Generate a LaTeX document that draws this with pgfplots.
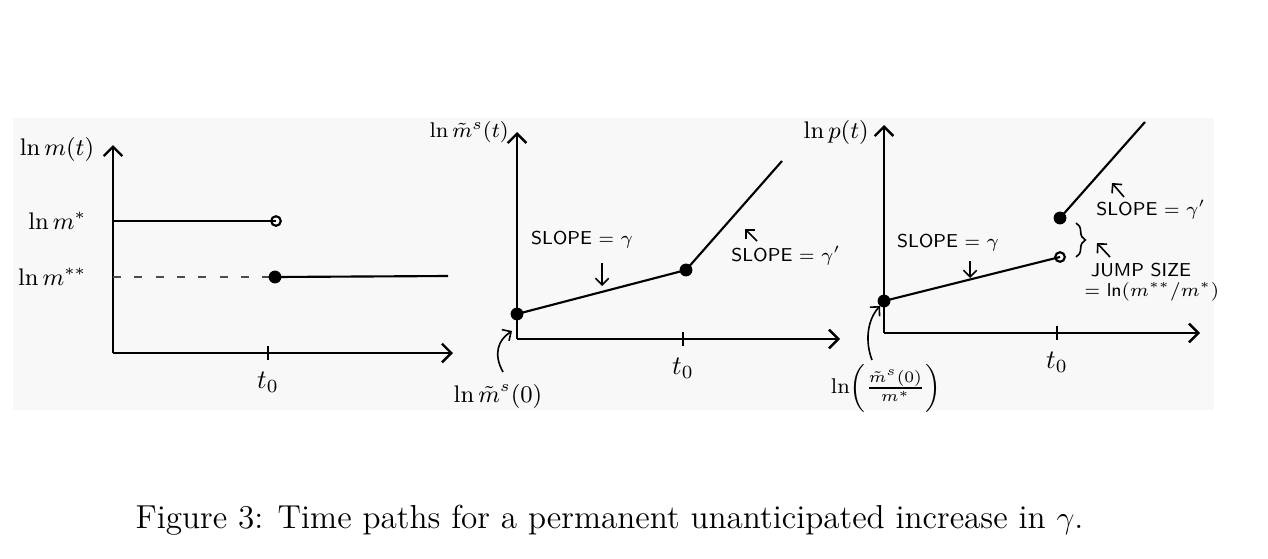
\documentclass[border=0pt]{standalone}
\usepackage{pgfplots}
\pgfplotsset{compat=1.18}
\usetikzlibrary{arrows.meta,decorations.pathreplacing}
\definecolor{scanbg}{HTML}{F8F8F8}
\pgfplotsset{
  panel/.style={
    scale only axis, anchor=south west, clip=false,
    axis lines=left, xmin=0, ymin=0,
    axis line style={line width=1.1pt, -{Straight Barb[length=3.5pt,width=7pt,line width=0.9pt]}},
    xtick style={black, line width=0.8pt}, tick align=center, major tick length=5pt,
    ytick style={draw=none},
    xticklabel style={font=\fontsize{10}{11}\selectfont, yshift=-1pt},
    yticklabel style={font=\fontsize{9}{10}\selectfont},
  },
  path/.style={black, line width=0.8pt, no markers},
}
\newcommand{\hw}{\fontsize{7}{8}\sffamily}
\begin{document}
\begin{tikzpicture}
\path[use as bounding box] (0,0) rectangle (475.5pt,209.25pt);
\begin{scope}[shift={(0pt,209.25pt)}, x=0.375pt, y=-0.375pt]
  \fill[scanbg] (13,118) rectangle (1214,410);
\end{scope}

% Panel 1: ln m(t)
\begin{axis}[panel, at={(42.375pt,76.875pt)}, width=127.5pt, height=78pt,
  xmax=3.40, ymax=2.08,
  xtick={1.55}, xticklabels={$t_0$},
  ytick={1.32,0.76}, yticklabels={$\ln m^{*}$, $\ln m^{**}$},
  yticklabel style={xshift=-4pt}]
  \addplot[path] coordinates {(0,1.32) (1.63,1.32)};
  \addplot[only marks, mark=o, mark size=1.8pt, mark options={line width=0.8pt, fill=white}] coordinates {(1.63,1.32)};
  \addplot[black!70, line width=0.6pt, dash pattern=on 3pt off 5pt, no markers] coordinates {(0,0.76) (1.62,0.76)};
  \addplot[path] coordinates {(1.62,0.76) (3.35,0.77)};
  \addplot[only marks, mark=*, mark size=2.2pt] coordinates {(1.62,0.76)};
  \node[font=\fontsize{9}{10}\selectfont] at (axis cs:-0.56,2.04) {$\ln m(t)$};
\end{axis}

% Panel 2: ln m~^s(t)
\begin{axis}[panel, at={(193.875pt,82.125pt)}, width=121.125pt, height=77.625pt,
  xmax=3.23, ymax=2.07,
  xtick={1.66}, xticklabels={$t_0$}, ytick=\empty]
  \addplot[path] coordinates {(0,0.25) (1.69,0.69) (2.65,1.78)};
  \addplot[only marks, mark=*, mark size=2.2pt] coordinates {(0,0.25) (1.69,0.69)};
  \node[font=\fontsize{8.5}{10}\selectfont, anchor=east, inner sep=1pt] at (axis cs:-0.05,2.07) {$\ln \tilde{m}^{s}(t)$};
\end{axis}

% Panel 3: ln p(t)
\begin{axis}[panel, at={(331.5pt,84.375pt)}, width=118.5pt, height=78pt,
  xmax=3.16, ymax=2.08,
  xtick={1.73}, xticklabels={$t_0$}, ytick=\empty]
  \addplot[path] coordinates {(0,0.32) (1.76,0.76)};
  \addplot[path] coordinates {(1.76,1.15) (2.61,2.11)};
  \addplot[only marks, mark=*, mark size=2.2pt] coordinates {(0,0.32) (1.76,1.15)};
  \addplot[only marks, mark=o, mark size=1.8pt, mark options={line width=0.8pt, fill=white}] coordinates {(1.76,0.76)};
  \node[font=\fontsize{9}{10}\selectfont, anchor=east, inner sep=1pt] at (axis cs:-0.12,2.01) {$\ln p(t)$};
\end{axis}

% Annotations (pixel coordinates)
\begin{scope}[shift={(0pt,209.25pt)}, x=0.375pt, y=-0.375pt,
  ann/.style={line width=0.6pt, -{Straight Barb[length=2.5pt,width=5pt]}}]
  % panel 2
  \node[font=\hw] at (582,240) {SLOPE = $\gamma$};
  \draw[ann] (602,263) -- (602,286);
  \draw[ann] (757,241) -- (745,229);
  \node[font=\hw] at (786,256) {SLOPE = $\gamma'$};
  \draw[ann] (503,372) .. controls (493,354) and (498,340) .. (512,331);
  \node[font=\fontsize{9}{10}\selectfont] at (498,396) {$\ln \tilde{m}^{s}(0)$};
  % panel 3
  \node[font=\hw] at (948,243) {SLOPE = $\gamma$};
  \draw[ann] (970,261) -- (970,278);
  \draw[line width=0.6pt, decorate, decoration={brace, amplitude=3.5pt}] (1076,223) -- (1076,257);
  \draw[ann] (1110,257) -- (1097,243);
  \node[font=\hw] at (1141,270) {JUMP SIZE};
  \node[font=\hw] at (1152,292) {= ln$(m^{**}/m^{*})$};
  \draw[ann] (1124,197) -- (1112,183);
  \node[font=\hw] at (1151,210) {SLOPE = $\gamma'$};
  \draw[ann] (872,360) .. controls (865,342) and (867,320) .. (880,306);
  \node[font=\fontsize{8.5}{10}\selectfont] at (886,388) {$\ln\!\left(\frac{\tilde{m}^{s}(0)}{m^{*}}\right)$};
  % caption
  \node[anchor=base west, inner sep=0pt, font=\fontsize{12.45}{14}\selectfont] at (135,528)
    {Figure 3: Time paths for a permanent unanticipated increase in $\gamma$.};
\end{scope}
\end{tikzpicture}
\end{document}
